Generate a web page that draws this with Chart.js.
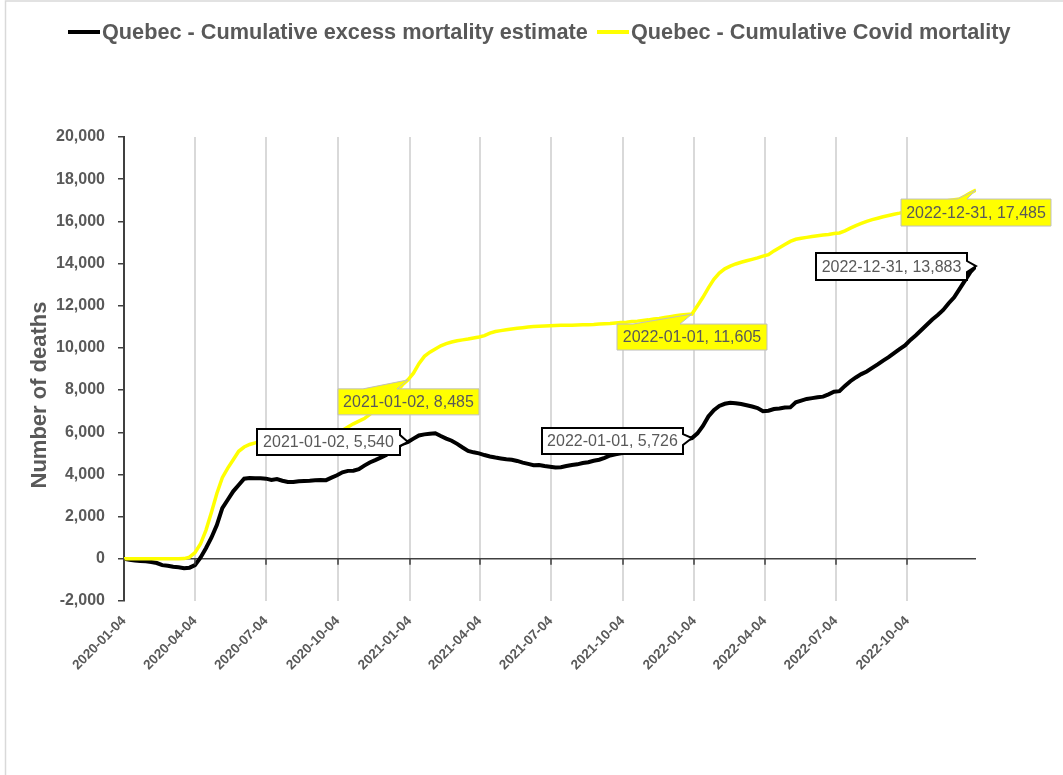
<!DOCTYPE html>
<html>
<head>
<meta charset="utf-8">
<title>Quebec cumulative excess mortality vs Covid mortality</title>
<script src="https://cdn.jsdelivr.net/npm/chart.js@4.4.1/dist/chart.umd.min.js"></script>
<style>
  html, body { margin: 0; padding: 0; background: #fff; }
  #wrap { width: 1063px; height: 775px; position: relative; }
</style>
</head>
<body>
<div id="wrap"><canvas id="chart"></canvas></div>
<script>
// weekly series, first week ending 2020-01-04
const START_DATE = '2020-01-04';
const WEEK_DAYS = 7;

const seriesNames = [
  'Quebec - Cumulative excess mortality estimate',
  'Quebec - Cumulative Covid mortality',
];

// cumulative excess deaths, one value per week
const excessDeaths = [
  0, -40, -80, -100, -120, -150, -200, -300, -330, -380,
  -400, -450, -420, -300, 50, 500, 1000, 1600, 2400, 2800,
  3200, 3500, 3800, 3830, 3820, 3820, 3800, 3740, 3780, 3700,
  3640, 3640, 3680, 3690, 3700, 3720, 3740, 3730, 3850, 3960,
  4100, 4170, 4180, 4250, 4420, 4570, 4680, 4800, 4920, 5100,
  5300, 5450, 5540, 5700, 5850, 5900, 5930, 5950, 5820, 5700,
  5600, 5450, 5280, 5120, 5050, 5000, 4920, 4850, 4800, 4760,
  4720, 4700, 4640, 4560, 4500, 4440, 4450, 4400, 4370, 4330,
  4340, 4400, 4450, 4480, 4540, 4580, 4650, 4700, 4790, 4900,
  4960, 5000, 5030, 5050, 5090, 5120, 5200, 5260, 5320, 5400,
  5480, 5550, 5620, 5670, 5726, 5950, 6300, 6750, 7050, 7250,
  7350, 7400, 7380, 7340, 7280, 7220, 7150, 7000, 7020, 7100,
  7130, 7170, 7180, 7420, 7500, 7580, 7620, 7660, 7690, 7800,
  7920, 7950, 8200, 8420, 8600, 8760, 8880, 9050, 9220, 9400,
  9560, 9750, 9940, 10120, 10380, 10600, 10850, 11100, 11350, 11560,
  11800, 12120, 12400, 12800, 13200, 13600, 13883,
];

// cumulative reported Covid deaths, one value per week
const covidDeaths = [
  0, 0, 0, 0, 0, 0, 0, 0, 0, 0,
  0, 10, 80, 300, 700, 1350, 2200, 3100, 3850, 4300,
  4700, 5100, 5300, 5420, 5500, 5560, 5600, 5630, 5650, 5670,
  5690, 5700, 5720, 5740, 5760, 5790, 5830, 5870, 5930, 6000,
  6100, 6250, 6400, 6530, 6650, 6850, 7050, 7250, 7500, 7720,
  7950, 8250, 8485, 8800, 9250, 9600, 9800, 9950, 10100, 10200,
  10280, 10340, 10380, 10420, 10470, 10520, 10580, 10700, 10780, 10820,
  10860, 10900, 10930, 10960, 10990, 11010, 11030, 11040, 11050, 11060,
  11070, 11080, 11080, 11090, 11100, 11100, 11110, 11130, 11150, 11160,
  11180, 11200, 11220, 11250, 11270, 11300, 11330, 11370, 11400, 11440,
  11480, 11520, 11560, 11590, 11605, 12000, 12400, 12850, 13250, 13550,
  13750, 13880, 13980, 14060, 14130, 14200, 14270, 14350, 14420, 14600,
  14750, 14900, 15050, 15150, 15200, 15240, 15280, 15320, 15350, 15380,
  15420, 15450, 15550, 15680, 15800, 15900, 16000, 16080, 16150, 16220,
  16280, 16340, 16390, 16450, 16520, 16600, 16680, 16750, 16820, 16880,
  16940, 16990, 17030, 17060, 17200, 17350, 17485,
];

const xTickLabels = [
  '2020-01-04', '2020-04-04', '2020-07-04', '2020-10-04',
  '2021-01-04', '2021-04-04', '2021-07-04', '2021-10-04',
  '2022-01-04', '2022-04-04', '2022-07-04', '2022-10-04',
];

const yMin = -2000;
const yMax = 20000;
const yStep = 2000;

const GRAY_TEXT = '#595959';
const DAY_MS = 86400000;
const startMs = Date.parse(START_DATE + 'T00:00:00Z');
const dayOf = s => Math.round((Date.parse(s + 'T00:00:00Z') - startMs) / DAY_MS);
const dateOf = d => new Date(startMs + d * DAY_MS).toISOString().slice(0, 10);
const fmt = v => v.toLocaleString('en-US');

const weekDays = excessDeaths.map((_, i) => i * WEEK_DAYS);
const toPoints = vals => vals.map((v, i) => ({ x: weekDays[i], y: v }));

// callouts: which point, box placement relative to the point, and pointer edge
const callouts = [
  { ds: 1, idx: 52, dx: -70, dy: 9, w: 141, h: 26, fill: '#FFFF00', stroke: '#BFBFBF', lw: 1, side: 'top', b1: 25, b2: 59 },
  { ds: 0, idx: 52, dx: -151, dy: -13, w: 143, h: 26, fill: '#FFFFFF', stroke: '#000000', lw: 2, side: 'right', b1: 6, b2: 17 },
  { ds: 0, idx: 104, dx: -150, dy: -10, w: 141, h: 26, fill: '#FFFFFF', stroke: '#000000', lw: 2, side: 'right', b1: 6, b2: 17 },
  { ds: 1, idx: 104, dx: -75, dy: 10, w: 150, h: 26, fill: '#FFFF00', stroke: '#BFBFBF', lw: 1, side: 'top', b1: 16, b2: 63 },
  { ds: 1, idx: 156, dx: -75, dy: 9, w: 150, h: 27, fill: '#FFFF00', stroke: '#BFBFBF', lw: 1, side: 'top', b1: 56, b2: 66 },
  { ds: 0, idx: 156, dx: -160, dy: -13, w: 151, h: 27, fill: '#FFFFFF', stroke: '#000000', lw: 2, side: 'right', b1: 8, b2: 19 },
];

const calloutPlugin = {
  id: 'callouts',
  afterDatasetsDraw(chart) {
    const { ctx, scales: { x, y } } = chart;
    ctx.save();
    callouts.forEach(c => {
      const vals = c.ds === 0 ? excessDeaths : covidDeaths;
      const v = vals[c.idx];
      const px = x.getPixelForValue(weekDays[c.idx]);
      const py = y.getPixelForValue(v);
      const left = px + c.dx, top = py + c.dy, right = left + c.w, bottom = top + c.h;
      ctx.beginPath();
      ctx.moveTo(left, top);
      if (c.side === 'top') {
        ctx.lineTo(left + c.b1, top);
        ctx.lineTo(px, py);
        ctx.lineTo(left + c.b2, top);
        ctx.lineTo(right, top);
        ctx.lineTo(right, bottom);
      } else {
        ctx.lineTo(right, top);
        ctx.lineTo(right, top + c.b1);
        ctx.lineTo(px, py);
        ctx.lineTo(right, top + c.b2);
        ctx.lineTo(right, bottom);
      }
      ctx.lineTo(left, bottom);
      ctx.closePath();
      ctx.fillStyle = c.fill;
      ctx.fill();
      ctx.lineWidth = c.lw;
      ctx.strokeStyle = c.stroke;
      ctx.lineJoin = 'miter';
      ctx.stroke();

      ctx.fillStyle = GRAY_TEXT;
      ctx.font = '16px "Liberation Sans", Arial, sans-serif';
      ctx.textAlign = 'center';
      ctx.textBaseline = 'middle';
      ctx.fillText(dateOf(weekDays[c.idx]) + ', ' + fmt(v), (left + right) / 2, (top + bottom) / 2 + 1);
    });
    ctx.restore();
  },
};

// zero line tick marks, legend, y title and outer frame
const decorPlugin = {
  id: 'decor',
  beforeDraw(chart) {
    const ctx = chart.ctx;
    ctx.save();
    ctx.fillStyle = '#fff';
    ctx.fillRect(0, 0, chart.width, chart.height);
    ctx.strokeStyle = '#D9D9D9';
    ctx.lineWidth = 1.5;
    ctx.beginPath();
    ctx.moveTo(5.5, chart.height);
    ctx.lineTo(5.5, 1);
    ctx.lineTo(chart.width, 1);
    ctx.stroke();
    ctx.restore();
  },
  afterDatasetsDraw(chart) {
    const { ctx, scales: { x, y } } = chart;
    const y0 = y.getPixelForValue(0);
    ctx.save();
    ctx.strokeStyle = '#404040';
    ctx.lineWidth = 1.5;
    ctx.beginPath();
    xTickLabels.forEach(t => {
      const px = Math.round(x.getPixelForValue(dayOf(t)));
      ctx.moveTo(px, y0);
      ctx.lineTo(px, y0 + 6);
    });
    ctx.stroke();
    ctx.restore();
  },
  afterDraw(chart) {
    const ctx = chart.ctx;
    ctx.save();
    // legend, font size fitted to the width of the first label
    const fam = '"Liberation Sans", Arial, sans-serif';
    ctx.font = 'bold 20px ' + fam;
    const size = 20 * 487 / ctx.measureText(seriesNames[0]).width;
    const items = [
      { text: seriesNames[0], color: '#000000', x: 68 },
      { text: seriesNames[1], color: '#FFFF00', x: 597 },
    ];
    ctx.font = 'bold ' + size.toFixed(1) + 'px ' + fam;
    ctx.textBaseline = 'middle';
    ctx.textAlign = 'left';
    items.forEach(it => {
      ctx.strokeStyle = it.color;
      ctx.lineWidth = 4;
      ctx.beginPath();
      ctx.moveTo(it.x, 32);
      ctx.lineTo(it.x + 32, 32);
      ctx.stroke();
      ctx.fillStyle = GRAY_TEXT;
      ctx.fillText(it.text, it.x + 34, 33);
    });
    // y axis title
    ctx.translate(40, 395);
    ctx.rotate(-Math.PI / 2);
    ctx.textAlign = 'center';
    ctx.font = 'bold 22px ' + fam;
    ctx.fillText('Number of deaths', 0, 0);
    ctx.restore();
  },
};

new Chart(document.getElementById('chart'), {
  type: 'line',
  data: {
    datasets: [
      {
        label: seriesNames[0],
        data: toPoints(excessDeaths),
        borderColor: '#000000',
        borderWidth: 4,
        pointRadius: 0,
        tension: 0,
        order: 1,
      },
      {
        label: seriesNames[1],
        data: toPoints(covidDeaths),
        borderColor: '#FFFF00',
        borderWidth: 3.5,
        pointRadius: 0,
        tension: 0,
        order: 0,
      },
    ],
  },
  options: {
    responsive: true,
    maintainAspectRatio: false,
    animation: false,
    events: [],
    layout: { padding: { top: 137, right: 87, left: 0, bottom: 0 } },
    plugins: {
      legend: { display: false },
      tooltip: { enabled: false },
    },
    scales: {
      x: {
        type: 'linear',
        min: 0,
        max: weekDays[weekDays.length - 1],
        afterBuildTicks: scale => {
          scale.ticks = xTickLabels.map(t => ({ value: dayOf(t) }));
        },
        afterFit: scale => { scale.height = 174; },
        border: { display: false },
        grid: { color: '#D9D9D9', lineWidth: 2, drawTicks: false },
        ticks: {
          autoSkip: false,
          maxRotation: 45,
          minRotation: 45,
          padding: 12,
          color: GRAY_TEXT,
          font: { family: '"Liberation Sans", Arial, sans-serif', size: 13.5, weight: 'bold' },
          callback: v => dateOf(v),
        },
      },
      y: {
        min: yMin,
        max: yMax,
        afterFit: scale => { scale.width = 124; },
        border: { display: true, color: '#404040', width: 2 },
        grid: {
          color: ctx => (ctx.tick && ctx.tick.value === 0 ? '#404040' : 'rgba(0,0,0,0)'),
          lineWidth: 1.5,
          drawTicks: true,
          tickLength: 6,
          tickColor: '#404040',
          tickWidth: 1.5,
        },
        ticks: {
          stepSize: yStep,
          padding: 13,
          color: GRAY_TEXT,
          font: { family: '"Liberation Sans", Arial, sans-serif', size: 16, weight: 'bold' },
          callback: v => fmt(v),
        },
      },
    },
  },
  plugins: [decorPlugin, calloutPlugin],
});
</script>
</body>
</html>
